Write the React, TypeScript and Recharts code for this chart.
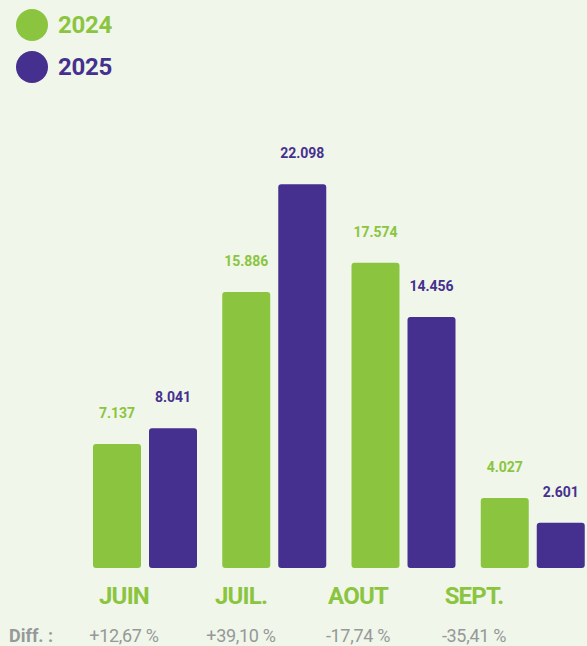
import React from "react";
import { BarChart, Bar, XAxis, YAxis, LabelList } from "recharts";

const months = ["JUIN", "JUIL.", "AOUT", "SEPT."];
const values2024 = [7137, 15886, 17574, 4027];
const values2025 = [8041, 22098, 14456, 2601];
const diffLabels = ["+12,67 %", "+39,10 %", "-17,74 %", "-35,41 %"];
const seriesNames = ["2024", "2025"];

const GREEN = "#8bc53f";
const PURPLE = "#46308f";
const BG = "#f0f6e9";
const GRAY = "#96989a";
const FONT = "Roboto, 'Noto Sans', sans-serif";

// label columns in the source sit slightly left of the bar pairs
const labelCenters = [124, 241, 358, 474];

const data = months.map((m, i) => ({
  month: m,
  y2024: values2024[i],
  y2025: values2025[i],
}));

const fmt = (v: number) => v.toLocaleString("de-DE");

function ChartLegend() {
  const colors = [GREEN, PURPLE];
  return (
    <div style={{ position: "absolute", top: 4, left: 16 }}>
      {seriesNames.map((name, i) => (
        <div key={name} style={{ display: "flex", alignItems: "center", height: 42 }}>
          <div
            style={{
              width: 32,
              height: 32,
              borderRadius: 16,
              background: colors[i],
              marginRight: 10,
            }}
          />
          <span
            style={{ color: colors[i], fontSize: 24, fontWeight: 700, letterSpacing: -0.3 }}
          >
            {name}
          </span>
        </div>
      ))}
    </div>
  );
}

export default function App() {
  return (
    <div
      style={{
        position: "absolute",
        top: 0,
        left: 0,
        width: 587,
        height: 646,
        overflow: "hidden",
        background: BG,
        fontFamily: FONT,
      }}
    >
      <BarChart
        width={600}
        height={646}
        data={data}
        margin={{ top: 47, right: 3, bottom: 78, left: 80 }}
        barSize={48}
        barGap={8}
      >
        <XAxis dataKey="month" hide />
        <YAxis hide domain={[0, 30000]} />
        <Bar dataKey="y2024" fill={GREEN} radius={[3, 3, 3, 3]} isAnimationActive={false}>
          <LabelList
            dataKey="y2024"
            position="top"
            offset={26}
            formatter={(v: any) => fmt(v)}
            style={{ fill: GREEN, fontSize: 14, fontWeight: 700, fontFamily: FONT }}
          />
        </Bar>
        <Bar dataKey="y2025" fill={PURPLE} radius={[3, 3, 3, 3]} isAnimationActive={false}>
          <LabelList
            dataKey="y2025"
            position="top"
            offset={26}
            formatter={(v: any) => fmt(v)}
            style={{ fill: PURPLE, fontSize: 14, fontWeight: 700, fontFamily: FONT }}
          />
        </Bar>
      </BarChart>

      <ChartLegend />

      {months.map((m, i) => (
        <div
          key={m}
          style={{
            position: "absolute",
            top: 582,
            left: labelCenters[i] - 60,
            width: 120,
            textAlign: "center",
            color: GREEN,
            fontSize: 24,
            fontWeight: 700,
            letterSpacing: -0.8,
          }}
        >
          {m}
        </div>
      ))}

      <div
        style={{
          position: "absolute",
          top: 625,
          left: 9,
          color: GRAY,
          fontSize: 18,
          fontWeight: 700,
        }}
      >
        Diff. :
      </div>
      {diffLabels.map((d, i) => (
        <div
          key={d}
          style={{
            position: "absolute",
            top: 625,
            left: labelCenters[i] - 60,
            width: 120,
            textAlign: "center",
            color: GRAY,
            fontSize: 18,
            letterSpacing: -0.3,
          }}
        >
          {d}
        </div>
      ))}
    </div>
  );
}
